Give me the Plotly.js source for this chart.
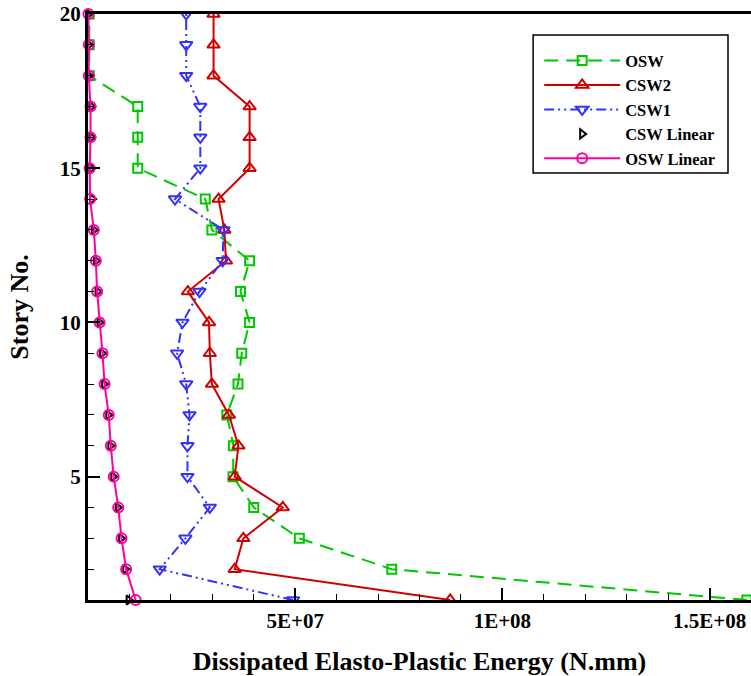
<!DOCTYPE html>
<html>
<head>
<meta charset="utf-8">
<script src="https://cdn.plot.ly/plotly-3.0.1.min.js"></script>
<style>html,body{margin:0;padding:0;background:#fff;}#chart{width:751px;height:676px;}</style>
</head>
<body>
<div id="chart"></div>
<script>
// Story numbers (1 = bottom, 20 = top)
const stories = [1,2,3,4,5,6,7,8,9,10,11,12,13,14,15,16,17,18,19,20];
// Dissipated energy values in units of 1E+06 N.mm, ordered by story 1..20
const oswE6       = [159, 73.3, 51.0, 40.0, 35.0, 35.1, 33.5, 36.2, 37.1, 39.0, 36.8, 39.0, 29.9, 28.3, 12.0, 12.0, 12.0, 0.3, 0.3, 0.3];
const csw2E6      = [87.4, 35.4, 37.5, 47.0, 35.4, 36.3, 34.0, 29.9, 29.4, 29.2, 24.1, 33.3, 32.9, 31.5, 39.0, 39.0, 39.0, 30.3, 30.3, 30.3];
const csw1E6      = [49.5, 17.3, 23.5, 29.4, 24.0, 24.0, 24.5, 23.7, 21.5, 22.8, 26.9, 32.5, 32.7, 21.0, 27.1, 27.1, 27.1, 23.7, 23.7, 23.7];
const cswLinearE6 = [9.8, 9.0, 8.0, 7.2, 6.1, 5.4, 4.9, 3.9, 3.4, 2.8, 2.3, 1.9, 1.4, 1.0, 0.8, 0.8, 0.8, 0.2, 0.2, 0.1];
const oswLinearE6 = [11.5, 9.2, 8.1, 7.3, 6.2, 5.5, 5.0, 4.0, 3.5, 2.8, 2.2, 1.9, 1.4, 0.5, 0.4, 0.6, 0.6, 0.2, 0.2, 0.1];
const xTickVals = [5e7, 1e8, 1.5e8];
const xTickText = ['5E+07', '1E+08', '1.5E+08'];
const yTickVals = [5, 10, 15, 20];
const yTickText = ['5', '10', '15', '20'];

const toNmm = a => a.map(v => v * 1e6);
const FONT = 'Liberation Serif, Times New Roman, serif';

const traces = [
  {name: 'OSW', x: toNmm(oswE6), y: stories, mode: 'lines+markers',
   line: {color: '#00c800', width: 2, dash: '14px,8px'},
   marker: {symbol: 'square-open', size: 9, color: '#00c800', line: {width: 2}}},
  {name: 'CSW2', x: toNmm(csw2E6), y: stories, mode: 'lines+markers',
   line: {color: '#d00000', width: 2},
   marker: {symbol: 'triangle-up-open', size: 11, color: '#d00000', line: {width: 2}}},
  {name: 'CSW1', x: toNmm(csw1E6), y: stories, mode: 'lines+markers',
   line: {color: '#3232ff', width: 2, dash: '10px,4px,2px,4px,2px,4px'},
   marker: {symbol: 'triangle-down-open', size: 11, color: '#3232ff', line: {width: 2}}},
  {name: 'CSW Linear', x: toNmm(cswLinearE6), y: stories, mode: 'markers', cliponaxis: false,
   marker: {symbol: 'triangle-right-open', size: 8, color: '#000000', line: {width: 2}}},
  {name: 'OSW Linear', x: toNmm(oswLinearE6), y: stories, mode: 'lines+markers', cliponaxis: false,
   line: {color: '#ff00a0', width: 2},
   marker: {symbol: 'circle-open', size: 10, color: '#ff00a0', line: {width: 2}}}
];

const layout = {
  width: 751, height: 676,
  margin: {l: 87.5, r: 0, t: 14, b: 76},
  paper_bgcolor: '#ffffff', plot_bgcolor: '#ffffff',
  font: {family: FONT, color: '#000', size: 16, weight: 'bold'},
  showlegend: true,
  legend: {
    x: 0.6805, y: 0.950, xanchor: 'left', yanchor: 'top',
    bgcolor: 'rgba(0,0,0,0)', borderwidth: 0,
    font: {family: FONT, size: 16.5, color: '#000', weight: 'bold'},
    itemwidth: 76
  },
  shapes: [{
    type: 'rect', xref: 'paper', yref: 'paper', layer: 'above',
    x0: 0.6714, x1: 0.9653, y0: 0.7287, y1: 0.9642,
    line: {color: '#000', width: 1.5}, fillcolor: '#ffffff'
  }],
  xaxis: {
    range: [0, 1.6e8], showgrid: false, zeroline: false,
    showline: true, linecolor: '#000', linewidth: 3, mirror: true,
    ticks: 'inside', ticklen: 12, tickwidth: 2, tickcolor: '#000',
    tickvals: xTickVals, ticktext: xTickText,
    tickfont: {family: FONT, size: 21, weight: 'bold'},
    minor: {dtick: 1e7, ticks: 'inside', ticklen: 6, tickwidth: 1, tickcolor: '#000'},
    title: {text: 'Dissipated Elasto-Plastic Energy (N.mm)', font: {family: FONT, size: 26, weight: 'bold'}, standoff: 21}
  },
  yaxis: {
    range: [1, 20], showgrid: false, zeroline: false,
    showline: true, linecolor: '#000', linewidth: 3, mirror: false,
    ticks: 'inside', ticklen: 12, tickwidth: 2, tickcolor: '#000',
    tickvals: yTickVals, ticktext: yTickText,
    tickfont: {family: FONT, size: 21, weight: 'bold'},
    minor: {dtick: 1, ticks: 'inside', ticklen: 6, tickwidth: 1, tickcolor: '#000'},
    title: {text: 'Story No.', font: {family: FONT, size: 26, weight: 'bold'}, standoff: 24}
  }
};

Plotly.newPlot('chart', traces, layout, {displayModeBar: false, staticPlot: true});
</script>
</body>
</html>
